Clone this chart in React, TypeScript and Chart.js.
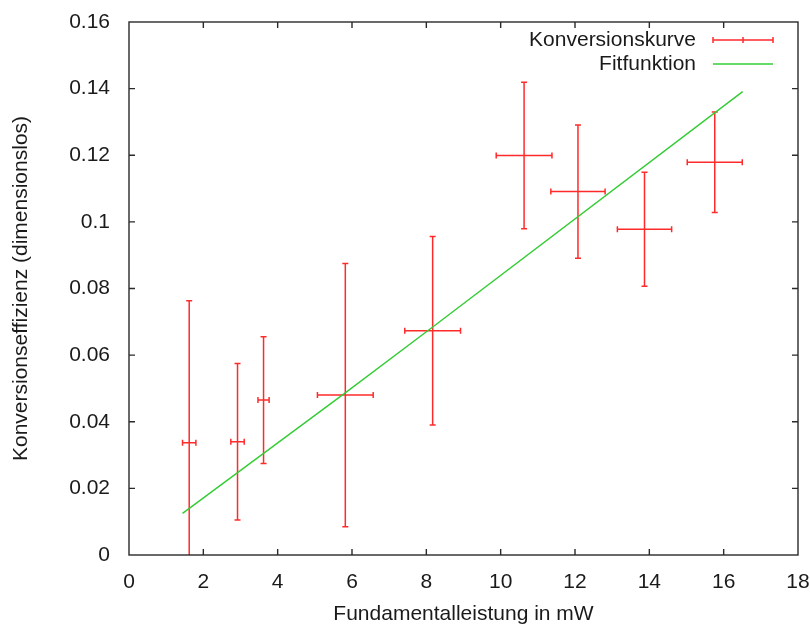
import React, { useEffect, useRef } from 'react';
import { Chart, registerables } from 'chart.js';
Chart.register(...registerables);

// Konversionskurve (measured points with error bars)
const xVals = [1.62, 2.92, 3.62, 5.82, 8.17, 10.63, 12.08, 13.87, 15.76];
const yVals = [0.0337, 0.034, 0.0465, 0.048, 0.0673, 0.1199, 0.1091, 0.0978, 0.1179];
const xErr = [0.18, 0.18, 0.15, 0.75, 0.75, 0.75, 0.73, 0.73, 0.74];
const yErr = [0.0426, 0.0235, 0.019, 0.0395, 0.0283, 0.022, 0.02, 0.0171, 0.0151];

// Fitfunktion
const fitX = [1.44, 5.8, 8.18, 16.51];
const fitY = [0.0125, 0.0485, 0.0685, 0.1391];

const xTickLabels = ['0', '2', '4', '6', '8', '10', '12', '14', '16', '18'];
const yTickLabels = ['0', '0.02', '0.04', '0.06', '0.08', '0.1', '0.12', '0.14', '0.16'];
const seriesNames = ['Konversionskurve', 'Fitfunktion'];
const xTitle = 'Fundamentalleistung in mW';
const yTitle = 'Konversionseffizienz (dimensionslos)';

const FONT = '"Liberation Sans", Arial, sans-serif';
const FS = 21;
const RED = '#ff2b2b';
const GREEN = '#33cc33';
const TXT = '#1a1a1a';

function labelFor(list: string[], v: number) {
  const f = list.find((l) => Math.abs(Number(l) - v) < 1e-6);
  return f ?? '';
}

export default function App() {
  const ref = useRef<HTMLCanvasElement>(null);
  useEffect(() => {
    if (!ref.current) return;
    const errPlugin = {
      id: 'errbars',
      beforeDatasetsDraw(chart: any) {
        const { ctx, chartArea: a, scales } = chart;
        const x = scales.x, y = scales.y;
        ctx.save();
        ctx.beginPath();
        ctx.rect(a.left, a.top, a.right - a.left, a.bottom - a.top);
        ctx.clip();
        ctx.strokeStyle = RED;
        ctx.lineWidth = 1.5;
        const cap = 3;
        xVals.forEach((xv, i) => {
          const px = x.getPixelForValue(xv);
          const py = y.getPixelForValue(yVals[i]);
          const x0 = x.getPixelForValue(xv - xErr[i]);
          const x1 = x.getPixelForValue(xv + xErr[i]);
          const y0 = y.getPixelForValue(yVals[i] - yErr[i]);
          const y1 = y.getPixelForValue(yVals[i] + yErr[i]);
          ctx.beginPath();
          ctx.moveTo(px, y0); ctx.lineTo(px, y1);
          ctx.moveTo(px - cap, y0); ctx.lineTo(px + cap, y0);
          ctx.moveTo(px - cap, y1); ctx.lineTo(px + cap, y1);
          ctx.moveTo(x0, py); ctx.lineTo(x1, py);
          ctx.moveTo(x0, py - cap); ctx.lineTo(x0, py + cap);
          ctx.moveTo(x1, py - cap); ctx.lineTo(x1, py + cap);
          ctx.stroke();
        });
        ctx.restore();
      },
      afterDatasetsDraw(chart: any) {
        const { ctx, chartArea: a, scales } = chart;
        const x = scales.x, y = scales.y;
        ctx.save();
        ctx.strokeStyle = '#2a2a2a';
        ctx.lineWidth = 1.4;
        ctx.strokeRect(a.left, a.top, a.right - a.left, a.bottom - a.top);
        const tl = 6;
        ctx.beginPath();
        x.ticks.forEach((t: any) => {
          const px = x.getPixelForValue(t.value);
          if (px <= a.left + 1 || px >= a.right - 1) return;
          ctx.moveTo(px, a.bottom); ctx.lineTo(px, a.bottom - tl);
          ctx.moveTo(px, a.top); ctx.lineTo(px, a.top + tl);
        });
        y.ticks.forEach((t: any) => {
          const py = y.getPixelForValue(t.value);
          if (py <= a.top + 1 || py >= a.bottom - 1) return;
          ctx.moveTo(a.left, py); ctx.lineTo(a.left + tl, py);
          ctx.moveTo(a.right, py); ctx.lineTo(a.right - tl, py);
        });
        ctx.stroke();

        // legend
        ctx.font = `${FS}px ${FONT}`;
        ctx.fillStyle = TXT;
        ctx.textAlign = 'right';
        ctx.textBaseline = 'middle';
        const tx = 696, s0 = 713, s1 = 773, r0 = 40, r1 = 64;
        ctx.fillText(seriesNames[0], tx, r0);
        ctx.fillText(seriesNames[1], tx, r1);
        ctx.strokeStyle = RED;
        ctx.lineWidth = 1.5;
        ctx.beginPath();
        ctx.moveTo(s0, r0); ctx.lineTo(s1, r0);
        [s0, (s0 + s1) / 2, s1].forEach((sx) => { ctx.moveTo(sx, r0 - 3); ctx.lineTo(sx, r0 + 3); });
        ctx.stroke();
        ctx.strokeStyle = GREEN;
        ctx.lineWidth = 1.4;
        ctx.beginPath();
        ctx.moveTo(s0, r1); ctx.lineTo(s1, r1);
        ctx.stroke();
        ctx.restore();
      },
    };

    const chart = new Chart(ref.current, {
      type: 'scatter',
      data: {
        datasets: [
          {
            label: seriesNames[0],
            data: xVals.map((v, i) => ({ x: v, y: yVals[i] })),
            pointRadius: 0,
            borderColor: RED,
            backgroundColor: RED,
            showLine: false,
          },
          {
            label: seriesNames[1],
            type: 'line',
            data: fitX.map((v, i) => ({ x: v, y: fitY[i] })),
            pointRadius: 0,
            borderColor: GREEN,
            borderWidth: 1.4,
            tension: 0,
            fill: false,
          } as any,
        ],
      },
      options: {
        responsive: false,
        animation: false,
        layout: { padding: { top: 22, right: 12, left: 0, bottom: 0 } },
        plugins: { legend: { display: false }, tooltip: { enabled: false } },
        scales: {
          x: {
            type: 'linear',
            min: 0,
            max: 18,
            grid: { display: false, drawTicks: false },
            border: { display: false },
            ticks: {
              stepSize: 2,
              padding: 15,
              color: TXT,
              font: { family: FONT, size: FS },
              callback: (v: any) => labelFor(xTickLabels, Number(v)),
              maxRotation: 0,
            },
            title: {
              display: true,
              text: xTitle,
              color: TXT,
              font: { family: FONT, size: FS },
              padding: { top: 0, bottom: -1 },
            },
            afterFit: (s: any) => {
              s.height = 71;
              s.paddingLeft = 0;
              s.paddingRight = 0;
            },
          },
          y: {
            type: 'linear',
            min: 0,
            max: 0.16,
            grid: { display: false, drawTicks: false },
            border: { display: false },
            ticks: {
              stepSize: 0.02,
              padding: 19,
              color: TXT,
              font: { family: FONT, size: FS },
              callback: (v: any) => labelFor(yTickLabels, Number(v)),
            },
            title: {
              display: true,
              text: yTitle,
              color: TXT,
              font: { family: FONT, size: FS },
              padding: { top: 9, bottom: 0 },
            },
            afterFit: (s: any) => {
              s.width = 129;
              s.paddingTop = 0;
              s.paddingBottom = 0;
            },
          },
        },
      },
      plugins: [errPlugin],
    });
    return () => chart.destroy();
  }, []);

  return (
    <div style={{ position: 'fixed', left: 0, top: 0, width: 810, height: 626, background: '#fff' }}>
      <canvas ref={ref} width={810} height={626} style={{ display: 'block' }} />
    </div>
  );
}
